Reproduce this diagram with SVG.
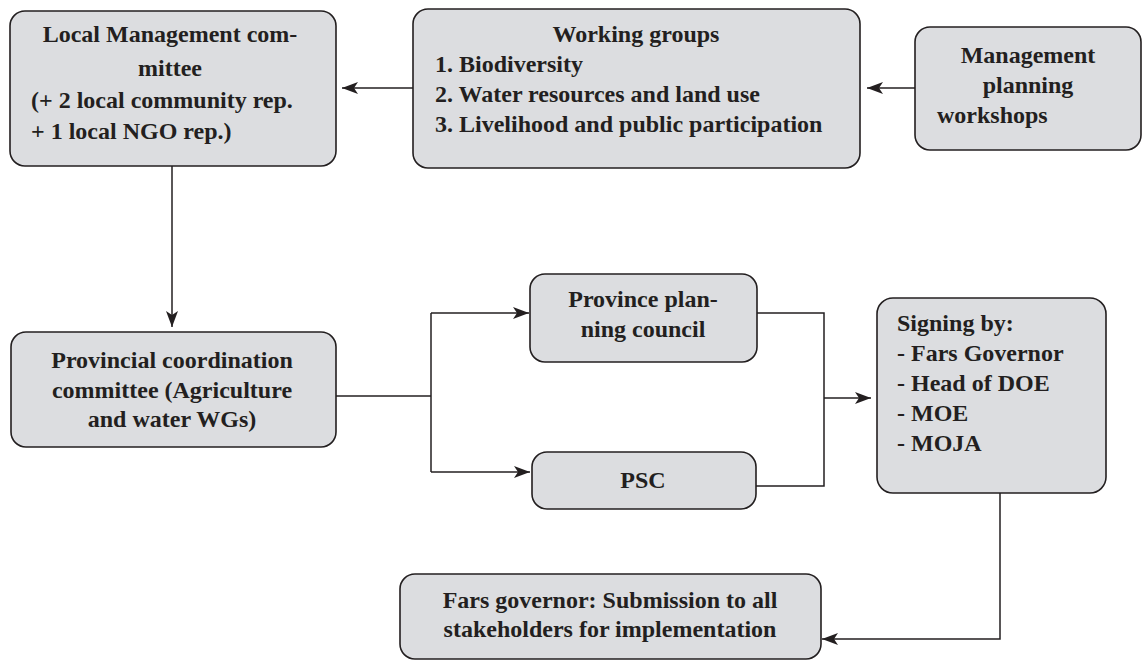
<svg xmlns="http://www.w3.org/2000/svg" width="1142" height="662" viewBox="0 0 1142 662">
<defs>
<style>
.box{fill:#dcdde0;stroke:#231f20;stroke-width:1.6}
.t{font-family:"Liberation Serif","Times New Roman",serif;font-weight:bold;font-size:24px;fill:#231f20}
.c{text-anchor:middle}
.ln{fill:none;stroke:#231f20;stroke-width:1.5}
</style>
<marker id="ah" markerUnits="userSpaceOnUse" markerWidth="16" markerHeight="12" refX="16" refY="6" orient="auto">
<path d="M0,0 L16,6 L0,12 L4,6 Z" fill="#231f20"/>
</marker>
</defs>
<rect width="1142" height="662" fill="#ffffff"/>
<g id="connectors">
<path class="ln" d="M915,88 L867,88" marker-end="url(#ah)"/>
<path class="ln" d="M413,88 L342,88" marker-end="url(#ah)"/>
<path class="ln" d="M172,166 L172,327" marker-end="url(#ah)"/>
<path class="ln" d="M336,396 L431,396"/>
<path class="ln" d="M431,313 L431,472"/>
<path class="ln" d="M431,313 L529,313" marker-end="url(#ah)"/>
<path class="ln" d="M431,472 L530,472" marker-end="url(#ah)"/>
<path class="ln" d="M757,313 L824,313 L824,486 L756,486"/>
<path class="ln" d="M824,398 L871,398" marker-end="url(#ah)"/>
<path class="ln" d="M1000,493 L1000,639 L822,639" marker-end="url(#ah)"/>
</g>
<g id="local-management">
<rect class="box" x="10" y="11" width="326" height="155" rx="15"/>
<text class="t c" x="170" y="42">Local Management com-</text>
<text class="t c" x="170" y="76">mittee</text>
<text class="t" x="31" y="108">(+ 2 local community rep.</text>
<text class="t" x="31" y="139">+ 1 local NGO rep.)</text>
</g>
<g id="working-groups">
<rect class="box" x="413" y="9" width="447" height="159" rx="15"/>
<text class="t c" x="636" y="42">Working groups</text>
<text class="t" x="435" y="72">1. Biodiversity</text>
<text class="t" x="435" y="102">2. Water resources and land use</text>
<text class="t" x="435" y="132">3. Livelihood and public participation</text>
</g>
<g id="workshops">
<rect class="box" x="915" y="27" width="226" height="123" rx="15"/>
<text class="t c" x="1028" y="63">Management</text>
<text class="t c" x="1028" y="93">planning</text>
<text class="t" x="937" y="123">workshops</text>
</g>
<g id="provincial-coordination">
<rect class="box" x="11" y="332" width="325" height="115" rx="15"/>
<text class="t c" x="172" y="368">Provincial coordination</text>
<text class="t c" x="172" y="398">committee (Agriculture</text>
<text class="t c" x="172" y="427">and water WGs)</text>
</g>
<g id="province-planning">
<rect class="box" x="530" y="274" width="227" height="88" rx="15"/>
<text class="t c" x="643" y="307">Province plan-</text>
<text class="t c" x="643" y="337">ning council</text>
</g>
<g id="psc">
<rect class="box" x="532" y="452" width="224" height="57" rx="15"/>
<text class="t c" x="643" y="488">PSC</text>
</g>
<g id="signing">
<rect class="box" x="877" y="298" width="229" height="195" rx="16"/>
<text class="t" x="897" y="331">Signing by:</text>
<text class="t" x="897" y="361">- Fars Governor</text>
<text class="t" x="897" y="391">- Head of DOE</text>
<text class="t" x="897" y="421">- MOE</text>
<text class="t" x="897" y="451">- MOJA</text>
</g>
<g id="fars-governor">
<rect class="box" x="400" y="574" width="421" height="85" rx="15"/>
<text class="t c" x="610" y="608">Fars governor: Submission to all</text>
<text class="t c" x="610" y="637">stakeholders for implementation</text>
</g>
</svg>
